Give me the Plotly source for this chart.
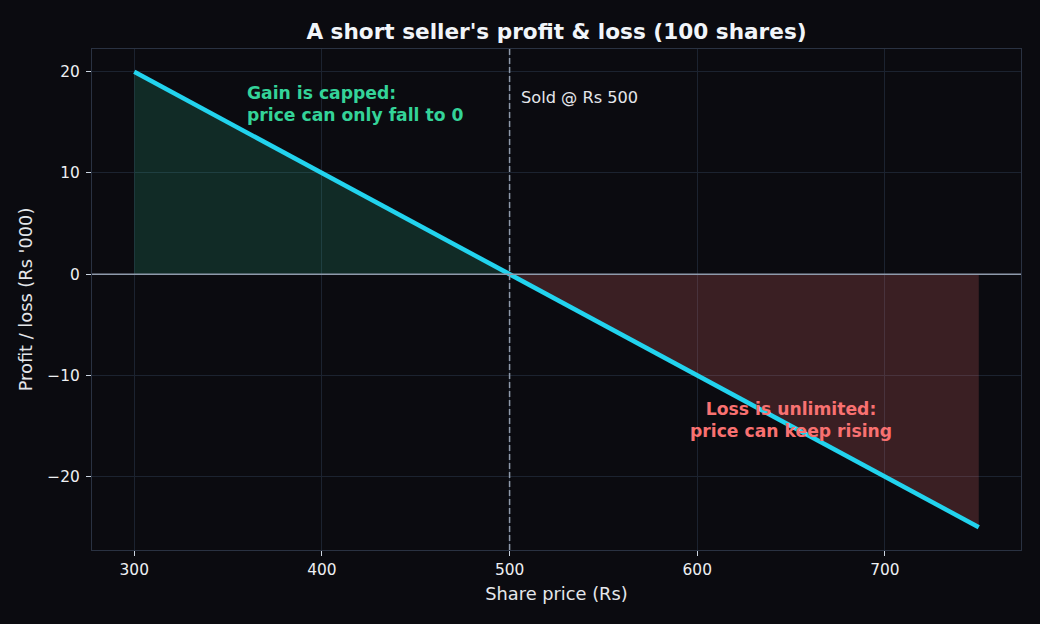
import plotly.graph_objects as go

# share price (Rs) and P&L of a 100-share short sold at Rs 500 (Rs '000)
prices = [300, 350, 400, 450, 500, 550, 600, 650, 700, 750]
pnl = [20, 15, 10, 5, 0, -5, -10, -15, -20, -25]
sold_at = 500

gain_x = [p for p in prices if p <= sold_at]
gain_y = pnl[:len(gain_x)]
loss_x = [p for p in prices if p >= sold_at]
loss_y = pnl[len(prices) - len(loss_x):]

bg = "#0b0b10"
txt = "#e5e7eb"
grid = "#1c2330"

fig = go.Figure()
# shaded regions
fig.add_trace(go.Scatter(x=gain_x, y=gain_y, mode="lines", line=dict(width=0),
                         fill="tozeroy", fillcolor="rgba(52,211,153,0.16)",
                         showlegend=False, hoverinfo="skip"))
fig.add_trace(go.Scatter(x=loss_x, y=loss_y, mode="lines", line=dict(width=0),
                         fill="tozeroy", fillcolor="rgba(248,113,113,0.2)",
                         showlegend=False, hoverinfo="skip"))
# zero line + sold marker
fig.add_hline(y=0, line=dict(color="#8f9aab", width=1.5), layer="above")
fig.add_vline(x=sold_at, line=dict(color="#8f9aab", width=1.5, dash="6px,3px"))
# payoff line
fig.add_trace(go.Scatter(x=prices, y=pnl, mode="lines",
                         line=dict(color="#22d3ee", width=4.5), showlegend=False))

fig.add_annotation(x=359, y=19.1, text="<b>Gain is capped:<br>price can only fall to 0</b>",
                   showarrow=False, xanchor="left", yanchor="top", align="left",
                   font=dict(color="#34d399", size=17.2))
fig.add_annotation(x=505, y=17.5, text="Sold @ Rs 500", showarrow=False,
                   xanchor="left", yanchor="middle", font=dict(color=txt, size=16.2))
fig.add_annotation(x=650, y=-14.4, text="<b>Loss is unlimited:<br>price can keep rising</b>",
                   showarrow=False, xanchor="center", yanchor="middle", align="center",
                   font=dict(color="#f87171", size=17.2))

axis_common = dict(showgrid=True, gridcolor=grid, gridwidth=1, zeroline=False,
                   showline=True, linecolor="#2a3242", linewidth=1.2, mirror=True,
                   ticks="outside", ticklen=5, tickcolor="#cbd5e1", tickwidth=1,
                   tickfont=dict(size=15.4, color="#eef0f3"),
                   title_font=dict(size=17.8, color=txt))

fig.update_layout(
    width=1040, height=624,
    paper_bgcolor=bg, plot_bgcolor=bg,
    font=dict(family="DejaVu Sans", color=txt),
    margin=dict(l=92, r=19, t=49, b=74),
    title=dict(text="<b>A short seller's profit & loss (100 shares)</b>",
               xref="paper", x=0.5, xanchor="center", y=0.95, yanchor="middle",
               font=dict(size=21.6, color="#f1f5f9")),
    xaxis=dict(range=[277.5, 772.5], tickvals=[300, 400, 500, 600, 700],
               title=dict(text="Share price (Rs)", standoff=9), **axis_common),
    yaxis=dict(range=[-27.25, 22.25], tickvals=[-20, -10, 0, 10, 20],
               ticklabelstandoff=3,
               title=dict(text="Profit / loss (Rs '000)", standoff=10), **axis_common),
)

fig.write_html("out.html", config={"displayModeBar": False},
               post_script="document.body.style.margin='0';"
               "document.body.style.background='#0b0b10';")
